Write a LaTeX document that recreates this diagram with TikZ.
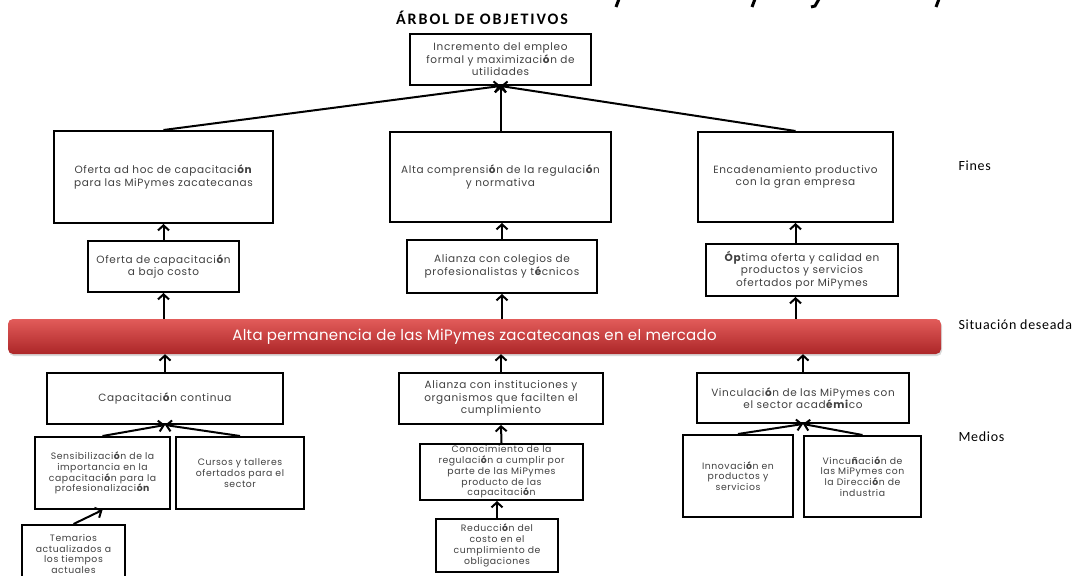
\documentclass[tikz,border=0pt]{standalone}
\usepackage{fontspec}
\setmainfont{Poppins}
\newfontfamily\boxfont[LetterSpace=6]{Poppins}
\newfontfamily\barfont[LetterSpace=2]{Poppins}
\newfontfamily\tagfont[LetterSpace=5]{Carlito}
\newfontfamily\titlefont[LetterSpace=12]{Carlito}
\usetikzlibrary{arrows.meta,shadows}
\tikzset{>={Straight Barb[length=5pt,width=11pt]}}
\tikzset{box/.style={draw, line width=2pt, align=center, inner sep=1pt, text=black!75,
  font=\boxfont\fontsize{10.5}{12.4}\selectfont}}
\tikzset{small box/.style={box, font=\boxfont\fontsize{9.3}{10.8}\selectfont}}
\tikzset{link/.style={->, line width=2pt}}
\tikzset{tag/.style={anchor=west, font=\tagfont\fontsize{14}{16}\selectfont}}
\tikzset{goal bar/.style={rounded corners=5pt, top color={rgb,255:red,226;green,92;blue,90},
  bottom color={rgb,255:red,172;green,38;blue,40}, text=white,
  drop shadow={opacity=0.3, shadow xshift=1pt, shadow yshift=-2pt},
  font=\barfont\fontsize{15}{17}\selectfont}}

\begin{document}
\begin{tikzpicture}[x=1pt, y=-1pt]

\useasboundingbox (0,0) rectangle (1077,576);

% cut-off heading above the picture
\foreach \xx in {619,755,939}
  \draw[line width=3pt] (\xx,-1) -- (\xx-3,7);
\draw[line width=3pt] (819,-1) -- (815,6) -- (811,7);

\node[font=\titlefont\bfseries\fontsize{16}{18}\selectfont] (title) at (482,18) {ÁRBOL DE OBJETIVOS};

% fines
\node[box, minimum width=181, minimum height=51] (top) at (500.5,59.5)
  {Incremento del empleo\\ formal y maximizaci\textbf{ó}n de\\ utilidades};
\node[box, minimum width=219, minimum height=92] (fin1) at (163.5,177)
  {Oferta ad hoc de capacitaci\textbf{ón}\\ para las MiPymes zacatecanas};
\node[box, minimum width=221, minimum height=90] (fin2) at (500.5,177)
  {Alta comprensi\textbf{ó}n de la regulaci\textbf{ó}n\\ y normativa};
\node[box, minimum width=195, minimum height=90] (fin3) at (795.5,177)
  {Encadenamiento productivo\\ con la gran empresa};

\node[box, minimum width=151, minimum height=51] (mid1) at (163.5,266.5)
  {Oferta de capacitaci\textbf{ó}n\\ a bajo costo};
\node[box, minimum width=190, minimum height=53] (mid2) at (502,266.5)
  {Alianza con colegios de\\ profesionalistas y t\textbf{é}cnicos};
\node[box, minimum width=192, minimum height=52] (mid3) at (802,270)
  {\textbf{Óp}tima oferta y calidad en\\ productos y servicios\\ ofertados por MiPymes};

% situacion deseada
\node[goal bar, minimum width=933, minimum height=35] (goal) at (474.5,336.5)
  {Alta permanencia de las MiPymes zacatecanas en el mercado};

% medios
\node[box, minimum width=236, minimum height=51] (med1) at (165,398.5)
  {Capacitaci\textbf{ó}n continua};
\node[box, minimum width=204, minimum height=51] (med2) at (501,398.5)
  {Alianza con instituciones y\\ organismos que facilten el\\ cumplimiento};
\node[box, minimum width=212, minimum height=50] (med3) at (803,398)
  {Vinculaci\textbf{ó}n de las MiPymes con\\ el sector acad\textbf{émi}co};

\node[small box, minimum width=135, minimum height=72] (sens) at (102.5,473)
  {Sensibilizaci\textbf{ó}n de la\\ importancia en la\\ capacitaci\textbf{ó}n para la\\ profesionalizaci\textbf{ón}};
\node[small box, minimum width=128, minimum height=72] (curs) at (240,473)
  {Cursos y talleres\\ ofertados para el\\ sector};
\node[small box, minimum width=103, minimum height=58] (tema) at (73.5,554)
  {Temarios\\ actualizados a\\ los tiempos\\ actuales};
\node[small box, minimum width=163, minimum height=56] (cono) at (501.5,472)
  {Conocimiento de la\\ regulaci\textbf{ó}n a cumplir por\\ parte de las MiPymes\\ producto de las\\ capacitaci\textbf{ó}n};
\node[small box, minimum width=122, minimum height=53] (redu) at (497,545.5)
  {Reducci\textbf{ó}n del\\ costo en el\\ cumplimiento de\\ obligaciones};
\node[small box, minimum width=110, minimum height=82] (inno) at (738,476)
  {Innovaci\textbf{ó}n en\\ productos y\\ servicios};
\node[small box, minimum width=117, minimum height=81] (vinc) at (862.5,476.5)
  {Vincu\textbf{ñ}aci\textbf{ó}n de\\ las MiPymes con\\ la Direcci\textbf{ó}n de\\ industria};

\node[tag] (fines) at (955,166) {Fines};
\node[tag] (sit) at (955,325) {Situación deseada};
\node[tag] (medios) at (955,437) {Medios};

% connectors
\draw[link] (fin1.north) -- (top.south);
\draw[link] (fin2.north) -- (top.south);
\draw[link] (fin3.north) -- (top.south);
\draw[link] (mid1.north) -- (fin1.south);
\draw[link] (mid2.north) -- (mid2.north |- fin2.south);
\draw[link] (fin3.south |- mid3.north) -- (fin3.south);
\draw[link] (mid1.south |- goal.north) -- (mid1.south);
\draw[link] (mid2.south |- goal.north) -- (mid2.south);
\draw[link] (fin3.south |- goal.north) -- (fin3.south |- mid3.south);
\draw[link] (med1.north) -- (med1.north |- goal.south);
\draw[link] (med2.north) -- (med2.north |- goal.south);
\draw[link] (med3.north) -- (med3.north |- goal.south);
\draw[link] (sens.north) -- (med1.south);
\draw[link] (curs.north) -- (med1.south);
\draw[link] (tema.north) -- (sens.south);
\draw[link] (cono.north) -- (med2.south);
\draw[link] (redu.north) -- (redu.north |- cono.south);
\draw[link] (inno.north) -- (med3.south);
\draw[link] (vinc.north) -- (med3.south);

\end{tikzpicture}
\end{document}
